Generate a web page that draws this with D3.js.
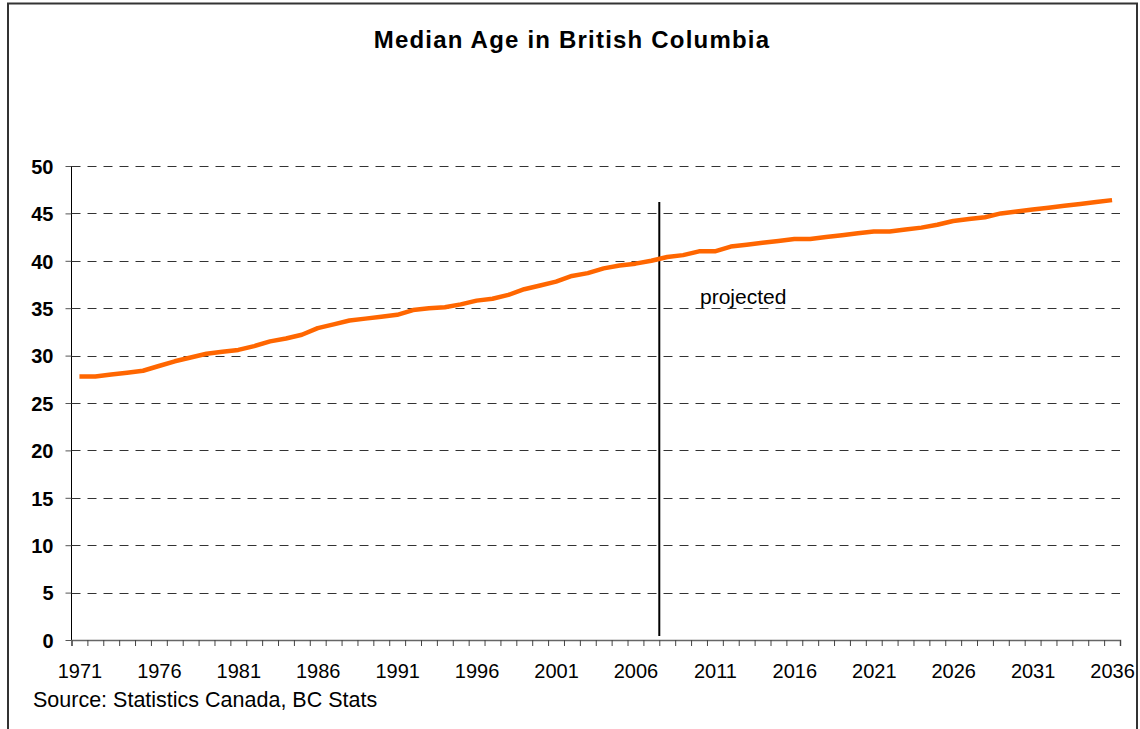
<!DOCTYPE html>
<html>
<head>
<meta charset="utf-8">
<script src="https://cdn.jsdelivr.net/npm/d3@7"></script>
<style>
  html, body { margin: 0; padding: 0; background: #fff; }
  svg { display: block; font-family: "Liberation Sans", Arial, sans-serif; }
</style>
</head>
<body>
<svg id="chart" width="1140" height="729"></svg>
<script>
const title = "Median Age in British Columbia";
const sourceNote = "Source: Statistics Canada, BC Stats";
const projectedLabel = "projected";

const years = [1971,1972,1973,1974,1975,1976,1977,1978,1979,1980,
  1981,1982,1983,1984,1985,1986,1987,1988,1989,1990,
  1991,1992,1993,1994,1995,1996,1997,1998,1999,2000,
  2001,2002,2003,2004,2005,2006,2007,2008,2009,2010,
  2011,2012,2013,2014,2015,2016,2017,2018,2019,2020,
  2021,2022,2023,2024,2025,2026,2027,2028,2029,2030,
  2031,2032,2033,2034,2035,2036];
const medianAge = [27.8,27.8,28.0,28.2,28.4,28.9,29.4,29.8,30.2,30.4,
  30.6,31.0,31.5,31.8,32.2,32.9,33.3,33.7,33.9,34.1,
  34.3,34.8,35.0,35.1,35.4,35.8,36.0,36.4,37.0,37.4,
  37.8,38.4,38.7,39.2,39.5,39.7,40.0,40.4,40.6,41.0,
  41.0,41.5,41.7,41.9,42.1,42.3,42.3,42.5,42.7,42.9,
  43.1,43.1,43.3,43.5,43.8,44.2,44.4,44.6,45.0,45.2,
  45.4,45.6,45.8,46.0,46.2,46.4];
const xTickLabels = [1971,1976,1981,1986,1991,1996,2001,2006,2011,2016,2021,2026,2031,2036];
const yTicks = [0,5,10,15,20,25,30,35,40,45,50];
const projectionStart = 2008; // divider between 2007 and 2008

const svg = d3.select("#chart");

// frame
svg.append("path")
  .attr("d", "M8,740 L8,3.5 L1137,3.5 L1137,740")
  .attr("fill", "none").attr("stroke", "#333").attr("stroke-width", 2);

const x = d3.scaleLinear()
  .domain([years[0] - 0.5, years[years.length - 1] + 0.5])
  .range([71.5, 1120]);
const y = d3.scaleLinear().domain([0, 50]).range([640, 166]);

// title
svg.append("text")
  .attr("x", 572).attr("y", 48)
  .attr("text-anchor", "middle")
  .attr("font-size", 24).attr("font-weight", "bold")
  .attr("letter-spacing", 1.2)
  .text(title);

// gridlines
svg.append("g").selectAll("line")
  .data(yTicks.filter(d => d > 0))
  .join("line")
  .attr("x1", x.range()[0]).attr("x2", x.range()[1])
  .attr("y1", d => Math.round(y(d)) + 0.5).attr("y2", d => Math.round(y(d)) + 0.5)
  .attr("stroke", "#333").attr("stroke-width", 1)
  .attr("stroke-dasharray", "9,7");

// y axis
const yAxis = d3.axisLeft(y).tickValues(yTicks).tickSize(6).tickPadding(12);
const gy = svg.append("g").attr("transform", "translate(71.5,0)").call(yAxis);
gy.select(".domain").attr("stroke", "#000").attr("d", `M0,${y(50)}V${y(0)}`);
gy.selectAll(".tick line").attr("stroke", "#555");
gy.selectAll(".tick text")
  .attr("font-size", 20).attr("font-weight", "bold")
  .attr("font-family", "Liberation Sans, Arial, sans-serif")
  .attr("fill", "#000").attr("dy", "0.36em");

// x axis ticks at category boundaries
const boundaries = years.map(d => d - 0.5).concat([years[years.length - 1] + 0.5]);
const xAxisTicks = d3.axisBottom(x).tickValues(boundaries).tickSize(6).tickFormat("");
const gx = svg.append("g").attr("transform", `translate(0,${y(0)})`).call(xAxisTicks);
gx.select(".domain").attr("stroke", "#666").attr("stroke-width", 1.5);
gx.selectAll(".tick line").attr("stroke", "#444");

// x axis labels
const xAxisLabels = d3.axisBottom(x).tickValues(xTickLabels).tickSize(0).tickPadding(24).tickFormat(d3.format("d"));
const gxl = svg.append("g").attr("transform", `translate(0,${y(0)})`).call(xAxisLabels);
gxl.select(".domain").remove();
gxl.selectAll(".tick text")
  .attr("font-size", 20)
  .attr("font-family", "Liberation Sans, Arial, sans-serif")
  .attr("fill", "#000");

// projection divider
svg.append("line")
  .attr("x1", x(projectionStart - 0.5)).attr("x2", x(projectionStart - 0.5))
  .attr("y1", 202).attr("y2", 636)
  .attr("stroke", "#000").attr("stroke-width", 2);

svg.append("text")
  .attr("x", 700).attr("y", 304)
  .attr("font-size", 21)
  .text(projectedLabel);

// line
const line = d3.line().x((d, i) => x(years[i])).y(d => y(d));
svg.append("path")
  .datum(medianAge)
  .attr("d", line)
  .attr("fill", "none")
  .attr("stroke", "#FF6600")
  .attr("stroke-width", 4.5)
  .attr("stroke-linejoin", "round");

// source
svg.append("text")
  .attr("x", 33).attr("y", 707)
  .attr("font-size", 21.5)
  .text(sourceNote);
</script>
</body>
</html>
